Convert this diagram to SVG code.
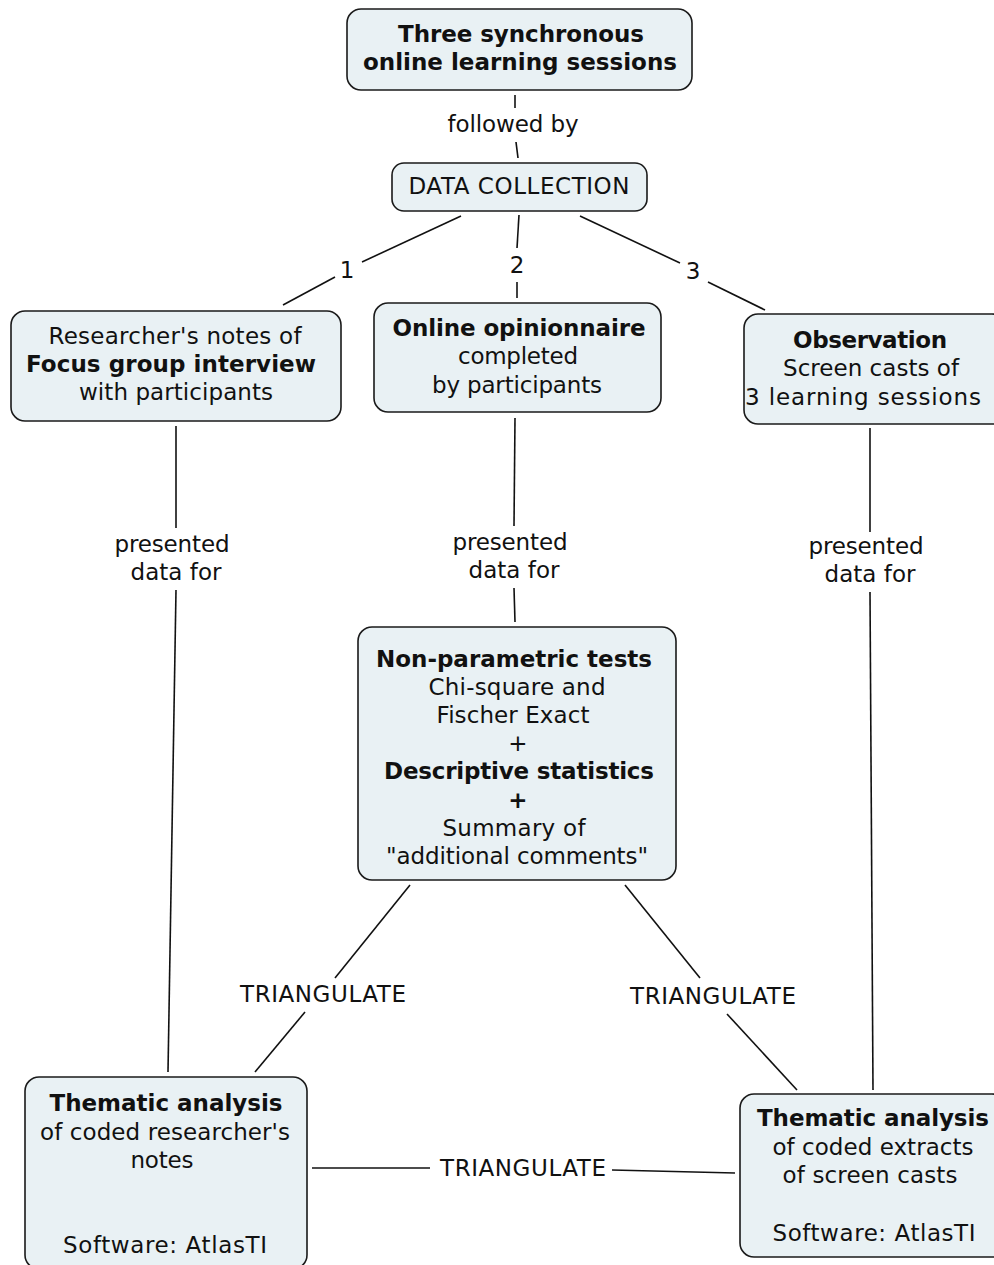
<svg xmlns="http://www.w3.org/2000/svg" width="994" height="1265" viewBox="0 0 994 1265">
  <style>
    .node { fill: #e9f1f4; stroke: #1a1a1a; stroke-width: 1.6; }
    text { font-family: "DejaVu Sans", Verdana, sans-serif; font-size: 23px; fill: #111; text-anchor: middle; }
    .b { font-weight: bold; }
    .link { stroke: #111; stroke-width: 1.6; fill: none; }
  </style>
  <rect x="0" y="0" width="994" height="1265" fill="#ffffff"/>

  <g id="connectors">
    <line class="link" x1="515" y1="95" x2="515" y2="108"/>
    <line class="link" x1="516" y1="142" x2="518" y2="158"/>
    <text x="513" y="132" textLength="131">followed by</text>

    <line class="link" x1="461" y1="216" x2="362" y2="262"/>
    <line class="link" x1="335" y1="277" x2="283" y2="305"/>
    <text x="347" y="278">1</text>
    <line class="link" x1="519" y1="215" x2="517" y2="248"/>
    <line class="link" x1="517" y1="282" x2="517" y2="298"/>
    <text x="517" y="273">2</text>
    <line class="link" x1="580" y1="216" x2="680" y2="263"/>
    <line class="link" x1="708" y1="282" x2="765" y2="310"/>
    <text x="693" y="279">3</text>

    <line class="link" x1="176" y1="426" x2="176" y2="528"/>
    <line class="link" x1="176" y1="590" x2="168" y2="1072"/>
    <text x="172" y="552" textLength="115">presented</text>
    <text x="176" y="580" textLength="91">data for</text>

    <line class="link" x1="515" y1="418" x2="514" y2="526"/>
    <line class="link" x1="514" y1="588" x2="515" y2="622"/>
    <text x="510" y="550" textLength="115">presented</text>
    <text x="514" y="578" textLength="91">data for</text>

    <line class="link" x1="870" y1="428" x2="870" y2="532"/>
    <line class="link" x1="870" y1="592" x2="873" y2="1090"/>
    <text x="866" y="554" textLength="115">presented</text>
    <text x="870" y="582" textLength="91">data for</text>

    <line class="link" x1="410" y1="885" x2="335" y2="978"/>
    <line class="link" x1="305" y1="1012" x2="255" y2="1072"/>
    <text x="323" y="1002" textLength="166">TRIANGULATE</text>

    <line class="link" x1="625" y1="885" x2="700" y2="978"/>
    <line class="link" x1="727" y1="1014" x2="797" y2="1090"/>
    <text x="713" y="1004" textLength="166">TRIANGULATE</text>

    <line class="link" x1="312" y1="1168" x2="430" y2="1168"/>
    <line class="link" x1="612" y1="1170" x2="735" y2="1173"/>
    <text x="523" y="1176" textLength="166">TRIANGULATE</text>
  </g>

  <g id="sessions">
    <rect class="node" x="347" y="9" width="345" height="81" rx="14"/>
    <text class="b" x="521" y="42" textLength="246">Three synchronous</text>
    <text class="b" x="520" y="70" textLength="314">online learning sessions</text>
  </g>

  <g id="data-collection">
    <rect class="node" x="392" y="163" width="255" height="48" rx="12"/>
    <text x="519" y="194" textLength="221">DATA COLLECTION</text>
  </g>

  <g id="focus-group">
    <rect class="node" x="11" y="311" width="330" height="110" rx="14"/>
    <text x="175" y="344" textLength="253">Researcher's notes of</text>
    <text class="b" x="171" y="372" textLength="290">Focus group interview</text>
    <text x="176" y="400" textLength="194">with participants</text>
  </g>

  <g id="opinionnaire">
    <rect class="node" x="374" y="303" width="287" height="109" rx="14"/>
    <text class="b" x="519" y="336" textLength="253">Online opinionnaire</text>
    <text x="518" y="364" textLength="120">completed</text>
    <text x="517" y="393" textLength="170">by participants</text>
  </g>

  <g id="observation">
    <rect class="node" x="744" y="314" width="262" height="110" rx="14"/>
    <text class="b" x="870" y="348" textLength="154">Observation</text>
    <text x="871" y="376" textLength="176">Screen casts of</text>
    <text x="863" y="405" textLength="236">3 learning sessions</text>
  </g>

  <g id="statistics">
    <rect class="node" x="358" y="627" width="318" height="253" rx="14"/>
    <text class="b" x="514" y="667" textLength="276">Non-parametric tests</text>
    <text x="517" y="695" textLength="177">Chi-square and</text>
    <text x="513" y="723" textLength="153">Fischer Exact</text>
    <text x="518" y="751">+</text>
    <text class="b" x="519" y="779" textLength="270">Descriptive statistics</text>
    <text class="b" x="518" y="808">+</text>
    <text x="514" y="836" textLength="143">Summary of</text>
    <text x="517" y="864" textLength="262">"additional comments"</text>
  </g>

  <g id="thematic-notes">
    <rect class="node" x="25" y="1077" width="282" height="192" rx="14"/>
    <text class="b" x="166" y="1111" textLength="233">Thematic analysis</text>
    <text x="165" y="1140" textLength="250">of coded researcher's</text>
    <text x="162" y="1168" textLength="63">notes</text>
    <text x="165" y="1253" textLength="204">Software: AtlasTI</text>
  </g>

  <g id="thematic-screencasts">
    <rect class="node" x="740" y="1094" width="266" height="163" rx="14"/>
    <text class="b" x="873" y="1126" textLength="232">Thematic analysis</text>
    <text x="873" y="1155" textLength="201">of coded extracts</text>
    <text x="870" y="1183" textLength="175">of screen casts</text>
    <text x="874" y="1241" textLength="203">Software: AtlasTI</text>
  </g>
</svg>
